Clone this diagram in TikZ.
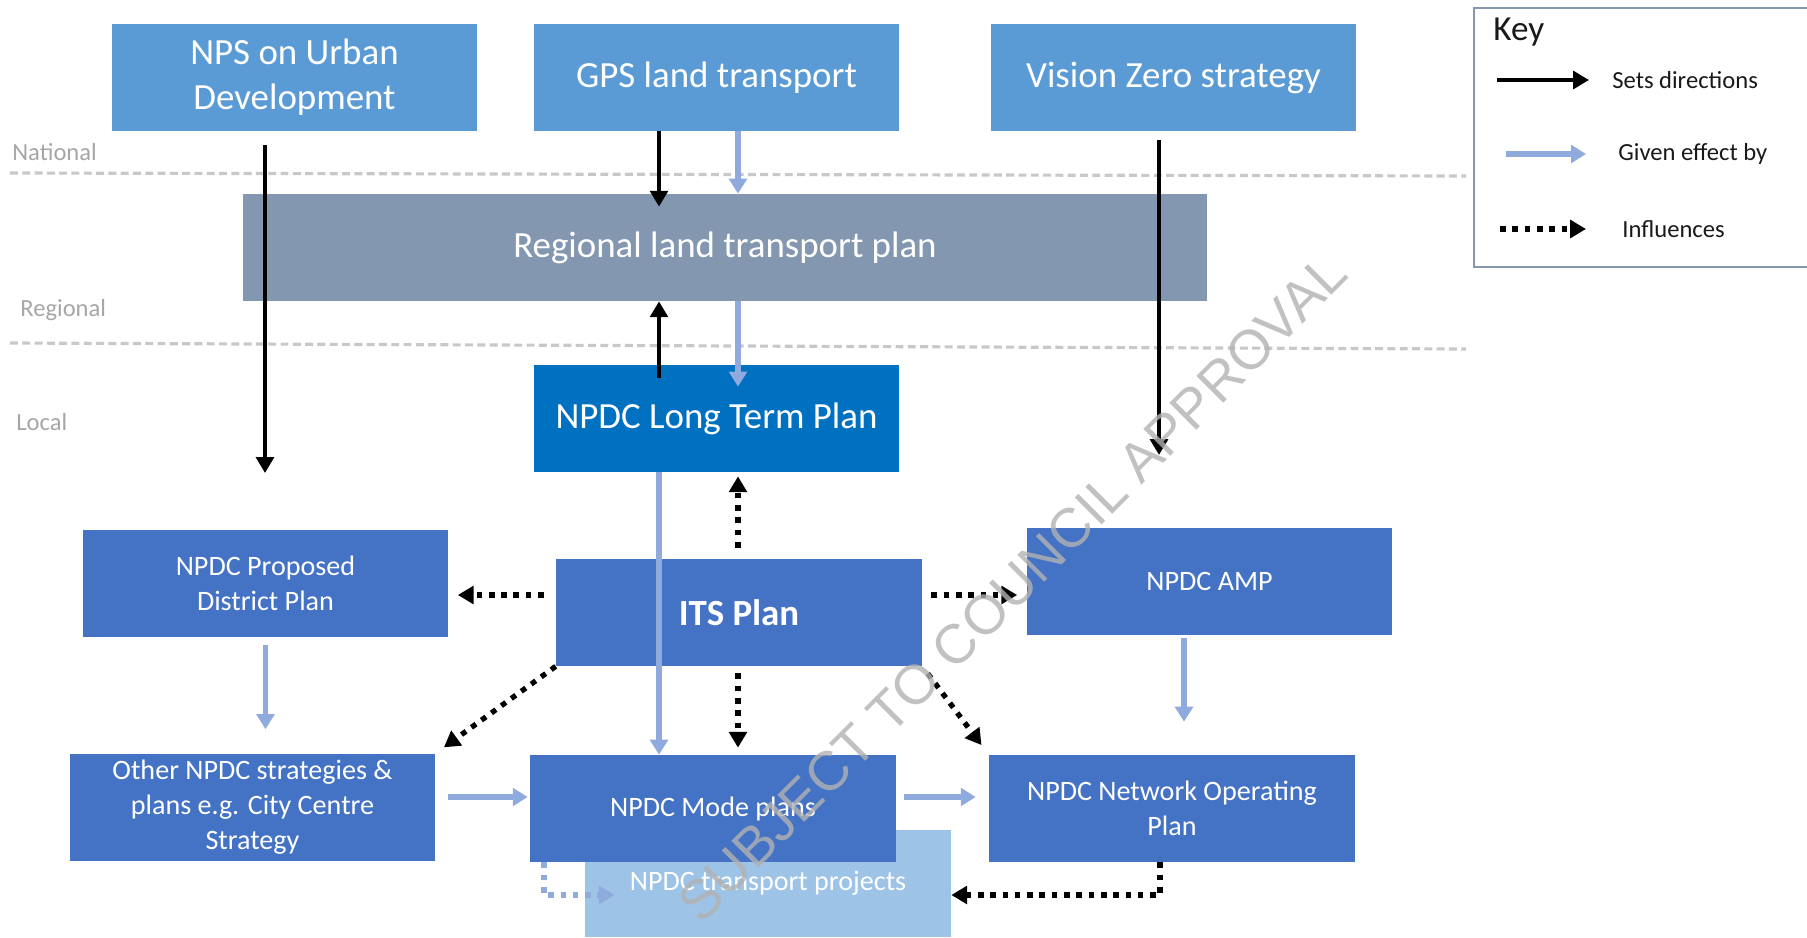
\documentclass[tikz,border=0pt]{standalone}
\usepackage{fontspec}
\setmainfont{Carlito}
\newfontfamily\markfont{Liberation Sans}
\usetikzlibrary{arrows.meta,calc}
\definecolor{topblue}{HTML}{5B9BD5}
\definecolor{rltpgray}{HTML}{8497B0}
\definecolor{ltpblue}{HTML}{0070C0}
\definecolor{midblue}{HTML}{4472C4}
\definecolor{projblue}{HTML}{9DC3E6}
\definecolor{arrowblue}{HTML}{8FAADC}
\definecolor{dashgray}{HTML}{C8C8C8}
\definecolor{labelgray}{HTML}{A6A6A6}

\begin{document}
\begin{tikzpicture}[x=0.02cm,y=-0.02cm,
    plan/.style={fill=#1,text=white,inner sep=0pt,align=center,minimum width=7.32cm,minimum height=2.14cm},
    plan/.default=midblue,
    bigtext/.style={font=\fontsize{21}{25.5}\selectfont},
    smalltext/.style={font=\fontsize{16}{20}\selectfont},
    sets/.style={line width=2.8pt,-{Triangle[width=10pt,length=9pt]}},
    given/.style={color=arrowblue,line width=3.4pt,-{Triangle[width=10pt,length=8.5pt]}},
    influ/.style={line width=3pt,dash pattern=on 3.2pt off 3.8pt,-{Triangle[width=10pt,length=9pt]}},
    level/.style={text=labelgray,font=\fontsize{14}{17}\selectfont,anchor=west,inner sep=0pt},
    keytext/.style={text=black!90,font=\fontsize{14}{17}\selectfont,anchor=west,inner sep=0pt}]
                \useasboundingbox (0,0) rectangle (1807,937);
                \clip (0,0) rectangle (1807,937);
                \draw[dashgray,line width=1.8pt,dash pattern=on 4.5pt off 2.5pt] (10,173) -- (1466,176);
                \draw[dashgray,line width=1.8pt,dash pattern=on 4.5pt off 2.5pt] (10,343) -- (1466,349);
                \foreach \lvl/\x/\y in {National/12/152,Regional/20/310,Local/16/422}{
                    \node[level] (\lvl) at (\x,\y) {\lvl};
                }
                \node[plan=topblue,bigtext] (nps) at (294.5,77.5) {NPS on Urban\\Development};
                \node[plan=topblue,bigtext] (gps) at (716.5,77.5) {GPS land transport};
                \node[plan=topblue,bigtext] (vz) at (1173.5,77.5) {Vision Zero strategy};
                \node[plan=rltpgray,bigtext,minimum width=19.28cm] (rltp) at (725,247.5) {Regional land transport plan};
                \node[plan=ltpblue,bigtext] (ltp) at (716.5,418.5) {NPDC Long Term Plan};
                \node[plan,bigtext] (its) at (739,612.5) {\bfseries ITS Plan};
                \node[plan,smalltext] (dp) at (265.5,583) {NPDC Proposed\\District Plan};
                \node[plan,smalltext] (amp) at (1209.5,581) {NPDC AMP};
                \node[plan,smalltext] (other) at (252.5,807) {Other NPDC strategies \&\\plans e.g. City Centre\\Strategy};
                \node[plan=projblue,smalltext] (proj) at (768,883.5) {NPDC transport projects};
                \node[plan,smalltext] (mode) at (713,808.5) {NPDC Mode plans};
                \node[plan,smalltext] (nop) at (1172,808.5) {NPDC Network Operating\\Plan};
                \node[draw=rltpgray,line width=1pt,minimum width=6.94cm,minimum height=5.18cm,anchor=north west,inner sep=0pt] (keybox) at (1473,7) {};
                \node[anchor=west,inner sep=0pt,text=black!90,font=\fontsize{20}{24}\selectfont] (keyhead) at (1493,32) {Key};
                \node[keytext] (lsets) at (1612,80) {Sets directions};
                \node[keytext] (lgiven) at (1618,154) {Given effect by};
                \node[keytext] (linflu) at (1622,229) {Influences};
                \draw[sets] ($(lsets.west)+(-115,0)$) -- ($(lsets.west)+(-23,0)$);
                \draw[given] ($(lgiven.west)+(-112,0)$) -- ($(lgiven.west)+(-32,0)$);
                \draw[influ] ($(linflu.west)+(-122,0)$) -- ($(linflu.west)+(-36,0)$);
                \coordinate (npsend) at (265,473);
                \coordinate (vzend) at (1159,455);
                \coordinate (colB) at (659,0);
                \coordinate (colC) at (738,0);
                \coordinate (colE) at (1184,0);
                \coordinate (rowE) at (0,595);
                \coordinate (rowF) at (0,797);
                \coordinate (nopturn) at (1160,895);
                \coordinate (modeturn) at (544,895);
                \draw[sets,shorten <=0.28cm] (nps.south -| npsend) -- (npsend);
                \draw[sets,shorten >=-0.26cm] (gps.south -| colB) -- (rltp.north -| colB);
                \draw[given] (gps.south -| colC) -- (rltp.north -| colC);
                \draw[sets,shorten <=-0.26cm] (ltp.north -| colB) -- (rltp.south -| colB);
                \draw[given,shorten >=-0.44cm] (rltp.south -| colC) -- (ltp.north -| colC);
                \draw[sets,shorten <=0.18cm] (vz.south -| vzend) -- (vzend);
                \draw[given] (ltp.south -| colB) -- (mode.north -| colB);
                \draw[influ,shorten <=0.22cm,shorten >=0.08cm] (its.north -| colC) -- (ltp.south -| colC);
                \draw[influ,shorten <=0.24cm,shorten >=0.18cm] (its.west |- rowE) -- (dp.east |- rowE);
                \draw[influ,shorten <=0.18cm,shorten >=0.18cm] (its.east |- rowE) -- (amp.west |- rowE);
                \draw[influ,shorten >=0.2cm] (its.south west) -- (other.north east);
                \draw[influ,shorten <=0.14cm,shorten >=0.14cm] (its.south -| colC) -- (mode.north -| colC);
                \draw[influ,shorten <=0.18cm,shorten >=0.24cm] (its.south east) -- (nop.north west);
                \draw[influ] (nop.south -| nopturn) -- (nopturn) -- (proj.east |- nopturn);
                \draw[influ,color=arrowblue,shorten >=-0.6cm] (mode.south -| modeturn) -- (modeturn) -- (proj.west |- modeturn);
                \draw[given,shorten <=0.16cm,shorten >=0.48cm] (dp.south) -- (dp.south |- other.north);
                \draw[given,shorten <=0.06cm,shorten >=0.66cm] (amp.south -| colE) -- (nop.north -| colE);
                \draw[given,shorten <=0.24cm,shorten >=0.04cm] (other.east |- rowF) -- (mode.west |- rowF);
                \draw[given,shorten <=0.16cm,shorten >=0.26cm] (mode.east |- rowF) -- (nop.west |- rowF);
                \node[rotate=45,text=black!30,opacity=0.8,font=\markfont\fontsize{31.5}{35}\selectfont] (stamp) at (1012,588) {SUBJECT TO COUNCIL APPROVAL};
            \end{tikzpicture}
\end{document}
